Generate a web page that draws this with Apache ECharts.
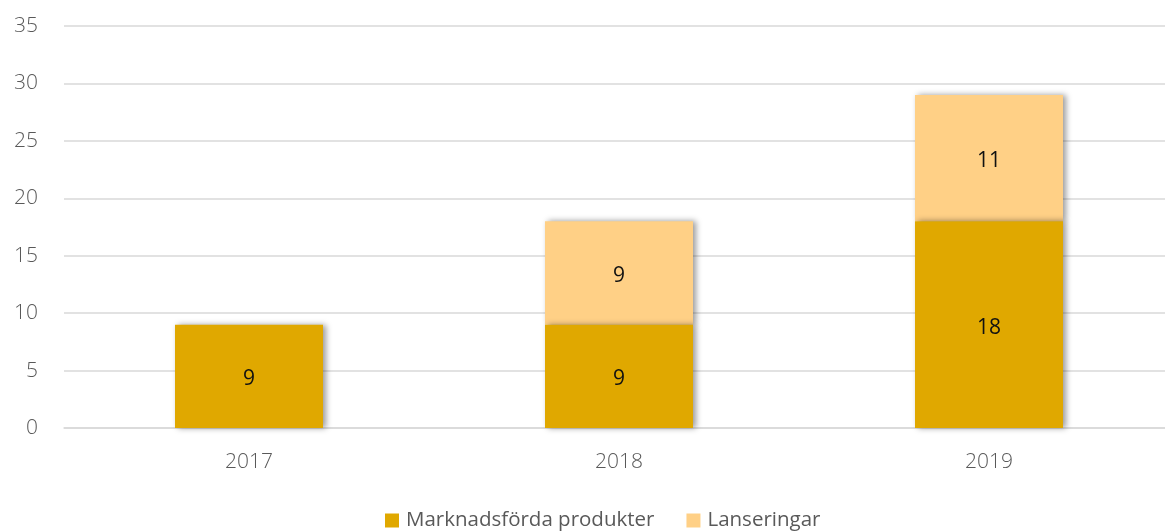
<!DOCTYPE html>
<html><head><meta charset="utf-8">
<script src="https://cdn.jsdelivr.net/npm/echarts@6/dist/echarts.min.js"></script>
<style>html,body{margin:0;padding:0;background:#fff;overflow:hidden;width:1165px;height:531px}#c{width:1174px;height:531px}</style>
</head><body><div id="c"></div>
<script>
const categories = ['2017', '2018', '2019'];
const marknadsforda = [9, 9, 18];
const lanseringar = [null, 9, 11];
const seriesNames = ['Marknadsförda produkter', 'Lanseringar'];
const yTicks = [0, 5, 10, 15, 20, 25, 30, 35];

const font = '"Open Sans", sans-serif';
const chart = echarts.init(document.getElementById('c'));
const shadow = {shadowColor: 'rgba(0,0,0,0.4)', shadowBlur: 6, shadowOffsetX: 3, shadowOffsetY: 0};
chart.setOption({
  animation: false,
  grid: {left: 64, right: 0, top: 26, bottom: 103, containLabel: false},
  legend: {
    top: 505, left: 380, itemWidth: 14, itemHeight: 14, itemGap: 32,
    icon: 'rect',
    textStyle: {fontFamily: font, fontSize: 20.5, fontWeight: 400, color: '#595959', padding: [0, 0, 0, 2]},
    data: seriesNames
  },
  xAxis: {
    type: 'category', data: categories,
    axisLine: {show: true, lineStyle: {color: '#D9D9D9', width: 1.5}},
    axisTick: {show: false},
    axisLabel: {fontFamily: font, fontSize: 21, fontWeight: 300, color: '#595959', margin: 24}
  },
  yAxis: {
    type: 'value', min: yTicks[0], max: yTicks[yTicks.length - 1], interval: 5,
    axisLine: {show: false}, axisTick: {show: false},
    splitLine: {lineStyle: {color: '#D9D9D9', width: 1.5}},
    axisLabel: {fontFamily: font, fontSize: 21, fontWeight: 300, color: '#595959', margin: 26}
  },
  series: [
    {
      name: seriesNames[0], type: 'bar', stack: 's', data: marknadsforda, barWidth: 148, z: 3,
      itemStyle: Object.assign({color: '#E0A800'}, shadow),
      label: {show: true, position: 'inside', offset: [0, 3], fontFamily: font, fontSize: 21, fontWeight: 400, color: '#111'}
    },
    {
      name: seriesNames[1], type: 'bar', stack: 's', data: lanseringar, barWidth: 148, z: 2,
      itemStyle: Object.assign({color: '#FFD086'}, shadow),
      label: {show: true, position: 'inside', offset: [0, 3], fontFamily: font, fontSize: 21, fontWeight: 400, color: '#111'}
    }
  ]
});
</script></body></html>
